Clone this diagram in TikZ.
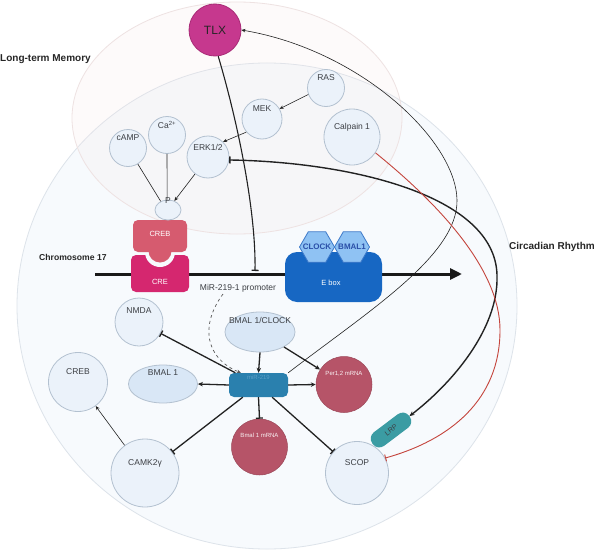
\documentclass[tikz,border=0pt]{standalone}
\usepackage{fontspec}
\setmainfont{Liberation Sans}
\usetikzlibrary{arrows.meta,shapes.geometric,shapes.misc,calc}
\definecolor{crfill}{HTML}{F7FAFD}
\definecolor{crline}{HTML}{DDE3EA}
\definecolor{ltmfill}{HTML}{F6E6E6}
\definecolor{ltmline}{HTML}{EEE2E2}
\definecolor{nodefill}{HTML}{EBF2FA}
\definecolor{nodeedge}{HTML}{B3C1D0}
\definecolor{ellfill}{HTML}{D9E7F6}
\definecolor{txt}{HTML}{3C3F44}
\definecolor{tlxcol}{HTML}{C6388E}
\definecolor{tlxedge}{HTML}{A82A76}
\definecolor{crebcol}{HTML}{D65B6F}
\definecolor{crecol}{HTML}{D5276F}
\definecolor{eboxcol}{HTML}{1767C3}
\definecolor{hexfill}{HTML}{8FC2F3}
\definecolor{hexedge}{HTML}{3C78C8}
\definecolor{hextxt}{HTML}{2A4FA8}
\definecolor{mircol}{HTML}{2A80AE}
\definecolor{mirtxt}{HTML}{5C9FC6}
\definecolor{mrnacol}{HTML}{B65468}
\definecolor{lrpcol}{HTML}{3B9CA3}
\definecolor{lk}{HTML}{222222}
\definecolor{redlk}{HTML}{C4443C}
\tikzset{
  cnode/.style={circle, draw=nodeedge, fill=nodefill, line width=0.8pt, inner sep=0pt},
  enode/.style={ellipse, draw=nodeedge, fill=ellfill, line width=0.8pt, inner sep=0pt},
  mnode/.style={circle, fill=mrnacol, draw=mrnacol!85!black, line width=0.5pt, inner sep=0pt},
  lbl/.style={font=\fontsize{8.5}{10}\selectfont, text=txt, inner sep=0pt},
  wlbl/.style={font=\fontsize{7.5}{9}\selectfont, text=white, inner sep=0pt},
  mlbl/.style={font=\fontsize{6}{7}\selectfont, text=white!92!mrnacol, inner sep=0pt},
  grplbl/.style={font=\bfseries\fontsize{10}{12}\selectfont, text=black!85, inner sep=0pt},
  hexs/.style={regular polygon, regular polygon sides=6, minimum size=35pt, inner sep=0pt,
    fill=hexfill, draw=hexedge, line width=0.8pt},
  hlbl/.style={font=\bfseries\fontsize{8}{9}\selectfont, text=hextxt, inner sep=0pt},
  act/.style={-{Stealth[length=5pt,width=4.5pt]}, line width=1.3pt, draw=lk},
  inh/.style={-{Bar[width=7pt,line width=1.3pt]}, line width=1.3pt, draw=lk},
  tact/.style={-{Stealth[length=4pt,width=3.5pt]}, line width=0.6pt, draw=lk},
}
\begin{document}
\begin{tikzpicture}[x=1pt,y=-1pt]
\useasboundingbox (0,0) rectangle (594,551);
\fill[white] (0,0) rectangle (594,551);
% background regions
\draw[draw=crline, fill=crfill, line width=0.8pt] (267,306) ellipse [x radius=250pt, y radius=243pt];
\draw[draw=ltmline, fill=ltmfill, fill opacity=0.18, line width=0.8pt] (237,118) ellipse [x radius=165pt, y radius=116pt];
\node[grplbl, anchor=west] (ltmlbl) at (0,59) {Long-term Memory};
\node[grplbl, anchor=west] (crlbl) at (509,247) {Circadian Rhythm};
\node[grplbl, font=\bfseries\fontsize{8.6}{10}\selectfont, anchor=west] (chrlbl) at (39,257) {Chromosome 17};

% chromosome
\coordinate (chrL) at (95,274);
\coordinate (chrR) at (462,274);
\draw[line width=3pt, draw=black!90, -{Triangle[length=12pt,width=11pt]}] (chrL) -- (chrR);

% CRE / CREB
\node[rectangle, rounded corners=5pt, fill=crecol, minimum width=58pt, minimum height=37pt, inner sep=0pt] (cre) at (160,273.5) {};
\fill[crfill] (160,252) circle [radius=15pt];
\node[rectangle, rounded corners=5pt, fill=crebcol, minimum width=54pt, minimum height=32pt, inner sep=0pt] (crebt) at (160,236) {};
\fill[crebcol] (160,251) circle [radius=11.5pt];
\node[wlbl] (crebtxt) at (160,234) {CREB};
\node[wlbl] (cretxt) at (160,282) {CRE};

% E box
\node[rectangle, rounded corners=12pt, fill=eboxcol, minimum width=97pt, minimum height=50pt, inner sep=0pt] (ebox) at (333.5,277) {};
\node[wlbl] (eboxtxt) at (331,283) {E box};
\node[hexs, label={[hlbl]center:CLOCK}] (clock) at (317,247) {};
\node[hexs, label={[hlbl]center:BMAL1}] (bmalh) at (352,247) {};
\node[lbl] (promtxt) at (238,288) {MiR-219-1 promoter};
\coordinate (prom) at (255,271);

% upper nodes
\node[cnode, minimum size=52pt, fill=tlxcol, draw=tlxedge, label={[lbl, font=\fontsize{12}{14}\selectfont, text=black!85]center:TLX}] (tlx) at (215,30) {};
\node[cnode, minimum size=37pt, label={[lbl,yshift=10pt]center:RAS}] (ras) at (326,88) {};
\node[cnode, minimum size=40pt, label={[lbl,yshift=10pt]center:MEK}] (mek) at (262,119) {};
\node[cnode, minimum size=56pt, label={[lbl,yshift=10pt]center:Calpain 1}] (calp) at (352,137) {};
\node[cnode, minimum size=37pt, label={[lbl,yshift=10pt]center:cAMP}] (camp) at (128,148) {};
\node[cnode, minimum size=37pt, label={[lbl,yshift=10pt]center:Ca\textsuperscript{2+}}] (ca) at (167,135) {};
\node[cnode, minimum size=42pt, label={[lbl,yshift=10pt]center:ERK1/2}] (erk) at (208,157) {};
\node[ellipse, draw=nodeedge, fill=nodefill, line width=0.8pt, minimum width=26pt, minimum height=20pt, inner sep=0pt,
  label={[lbl,yshift=-4pt]north:P}] (p) at (168,210) {};

% lower nodes
\node[cnode, minimum size=48pt, label={[lbl,yshift=11pt]center:NMDA}] (nmda) at (139,322) {};
\node[enode, minimum width=70pt, minimum height=40pt, label={[lbl,yshift=12pt]center:BMAL 1/CLOCK}] (bc) at (260,332) {};
\node[rectangle, rounded corners=5pt, fill=mircol, minimum width=59pt, minimum height=24pt, inner sep=0pt,
  label={[font=\fontsize{6}{7}\selectfont, text=mirtxt, yshift=8pt]center:miR-219}] (mir) at (258.5,385) {};
\node[enode, minimum width=69pt, minimum height=38pt, label={[lbl,yshift=11pt]center:BMAL 1}] (bmal1) at (163,384) {};
\node[cnode, minimum size=59pt, label={[lbl,yshift=10pt]center:CREB}] (crebl) at (78,382) {};
\node[cnode, minimum size=68pt, label={[lbl,yshift=10pt]center:CAMK2γ}] (camk) at (145,473) {};
\node[cnode, minimum size=63pt, label={[lbl,yshift=10pt]center:SCOP}] (scop) at (357,473) {};
\node[mnode, minimum size=56pt, label={[mlbl,yshift=12pt]center:Bmal 1 mRNA}] (bmalm) at (259.5,447) {};
\node[mnode, minimum size=56pt, label={[mlbl,yshift=11pt]center:Per1,2 mRNA}] (per) at (344,384.5) {};
\node[rectangle, rounded corners=8pt, fill=lrpcol, minimum width=46pt, minimum height=17pt, inner sep=0pt, rotate=37,
  font=\fontsize{7}{8}\selectfont, text=txt] (lrp) at (391,430) {LRP};

% upper connectors
\draw[tact] (ras.200) -- (mek.30);
\draw[tact] (mek.220) -- (erk.45);
\draw[line width=0.6pt, draw=lk] (camp) -- (p.130);
\draw[line width=0.6pt, draw=lk] (ca) -- (p.95);
\draw[tact] (erk) -- (p.55);
\draw[inh, line width=1.1pt] (tlx.-83) .. controls (240,130) and (256,215) .. (prom);

% long curves
\draw[line width=0.6pt, draw=lk, -{Stealth[length=4pt,width=3.5pt]}]
  (mir.north east) .. controls (370,310) and (458,255) .. (457,200)
  .. controls (456,140) and (360,50) .. (tlx.east);
\draw[line width=1.4pt, draw=lk, {Bar[width=7pt,line width=1.4pt]}-{Stealth[length=5pt,width=4.5pt]}]
  (erk.-8) .. controls (350,162) and (495,195) .. (497,275)
  .. controls (499,330) and (450,385) .. (lrp.east);
\draw[line width=0.9pt, draw=redlk, -{Bar[width=7pt,line width=0.9pt]}]
  (calp.-34) .. controls (440,205) and (500,270) .. (500,330)
  .. controls (500,400) and (450,440) .. (scop.28);

% dashed
\coordinate (dstart) at (223,294);
\draw[line width=0.7pt, draw=black!65, dashed, -{Stealth[length=4pt,width=3.5pt]}]
  (dstart) .. controls (200,325) and (205,358) .. ([xshift=12pt]mir.north west);

% lower network
\draw[act] (bc.south) -- (mir.north);
\draw[act] (bc) -- (per);
\draw[inh] (mir) -- (nmda);
\draw[act] (mir.west) -- (bmal1.east);
\draw[act] (mir.east) -- (per.west);
\draw[inh] (mir.south) -- (bmalm.north);
\draw[inh] (mir) -- (camk);
\draw[inh] (mir) -- (scop);
\draw[tact] (camk) -- (crebl);
\end{tikzpicture}
\end{document}
